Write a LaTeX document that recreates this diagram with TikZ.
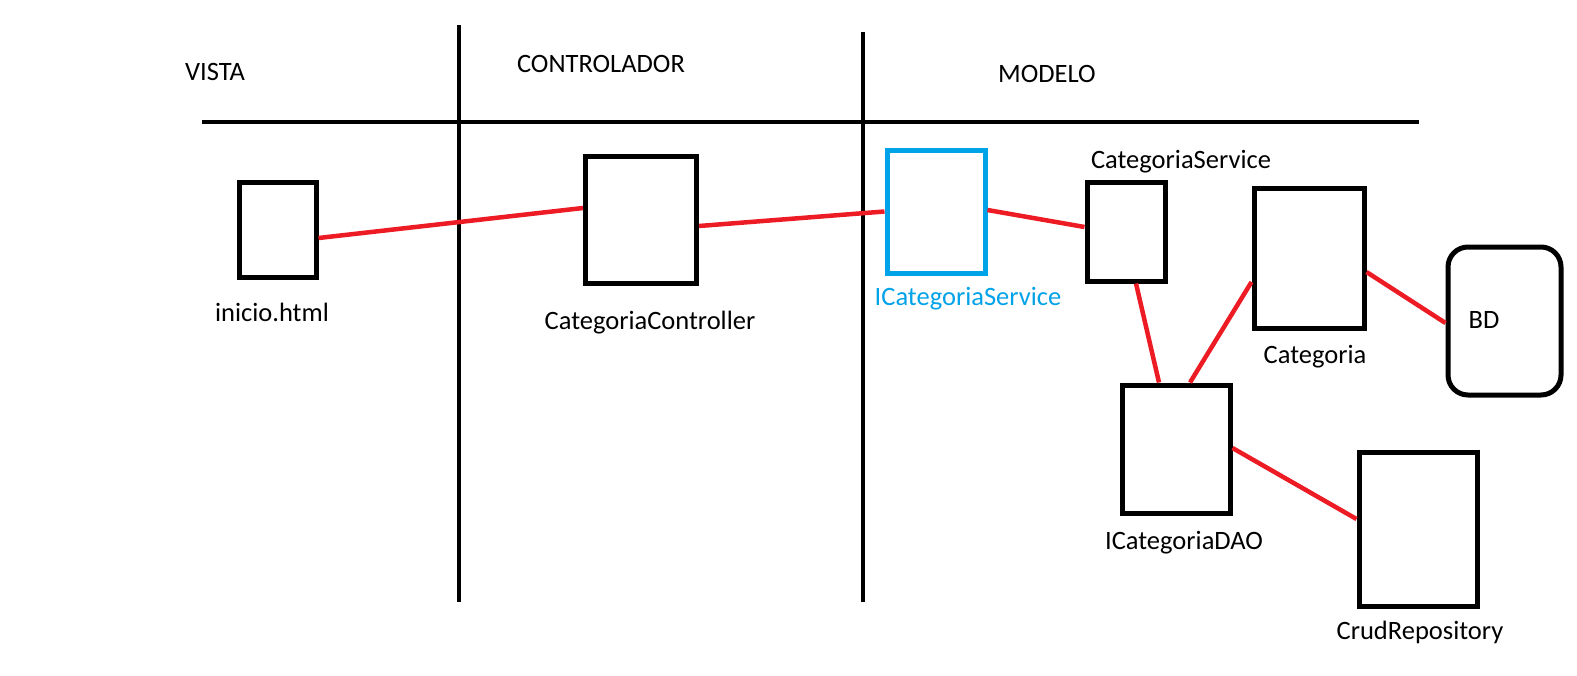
\documentclass[tikz,border=0pt]{standalone}
\usepackage{fontspec}
\setmainfont{Carlito}
\begin{document}
\begin{tikzpicture}[x=1pt,y=-1pt,
  box/.style={draw=black,line width=5pt,fill=none,inner sep=0pt},
  bluebox/.style={draw=paintblue,line width=5pt,inner sep=0pt},
  lbl/.style={font=\fontsize{26.5}{30}\selectfont,inner sep=0pt,text=black},
  sep/.style={draw=black,line width=4.5pt},
  link/.style={draw=paintred,line width=4.5pt}]
\definecolor{paintred}{HTML}{ED1C24}
\definecolor{paintblue}{HTML}{00A2E8}
\useasboundingbox (0,0) rectangle (1577,675);
\fill[white] (0,0) rectangle (1577,675);
% separators
\coordinate (hl) at (202,122);
\coordinate (hr) at (1419,122);
\coordinate (v1t) at (459,25);
\coordinate (v1b) at (459,602);
\coordinate (v2t) at (863,32);
\coordinate (v2b) at (863,602);
\draw[sep] (hl) -- (hr);
\draw[sep] (v1t) -- (v1b);
\draw[sep] (v2t) -- (v2b);
% headers
\node[lbl] (vista) at (215,72) {VISTA};
\node[lbl] (contr) at (601,64) {CONTROLADOR};
\node[lbl] (modelo) at (1047,74) {MODELO};
% boxes
\node[box,minimum width=77pt,minimum height=95pt] (inicio) at (277.5,229.5) {};
\node[box,minimum width=111pt,minimum height=127pt] (ctrl) at (641,219.5) {};
\node[bluebox,minimum width=98pt,minimum height=123pt] (isvc) at (936,211.5) {};
\node[box,minimum width=78pt,minimum height=99pt] (svc) at (1126,231.5) {};
\node[box,minimum width=110pt,minimum height=140pt] (cat) at (1309,258) {};
\node[box,rounded corners=20pt,minimum width=113pt,minimum height=148pt] (bd) at (1504.5,321) {};
\node[box,minimum width=108pt,minimum height=128pt] (dao) at (1176,449) {};
\node[box,minimum width=118pt,minimum height=154pt] (crud) at (1418,529) {};
% labels
\node[lbl] (linicio) at (272,312) {inicio.html};
\node[lbl] (lctrl) at (650,323) {CategoriaController};
\node[lbl,text=paintblue] (lisvc) at (968,299) {ICategoriaService};
\node[lbl] (lsvc) at (1181,162) {CategoriaService};
\node[lbl] (lcat) at (1315,357) {Categoria};
\node[lbl] (lbd) at (1484,320) {BD};
\node[lbl] (ldao) at (1184,543) {ICategoriaDAO};
\node[lbl] (lcrud) at (1420,632) {CrudRepository};
% links
\draw[link] ([yshift=-8.5pt]inicio.east) -- ([yshift=11.5pt]ctrl.west);
\draw[link] ([yshift=-6.5pt]ctrl.east) -- (isvc.west);
\draw[link] ([yshift=1.5pt]isvc.east) -- ([yshift=4.5pt]svc.west);
\draw[link] ([xshift=10pt]svc.south) -- ([xshift=-17pt]dao.north);
\draw[link] ([xshift=14pt]dao.north) -- ([yshift=-24pt]cat.west);
\draw[link] ([yshift=-14pt]cat.east) -- ([yshift=-2pt]bd.west);
\draw[link] ([yshift=1pt]dao.east) -- ([yshift=10pt]crud.west);
\end{tikzpicture}
\end{document}
